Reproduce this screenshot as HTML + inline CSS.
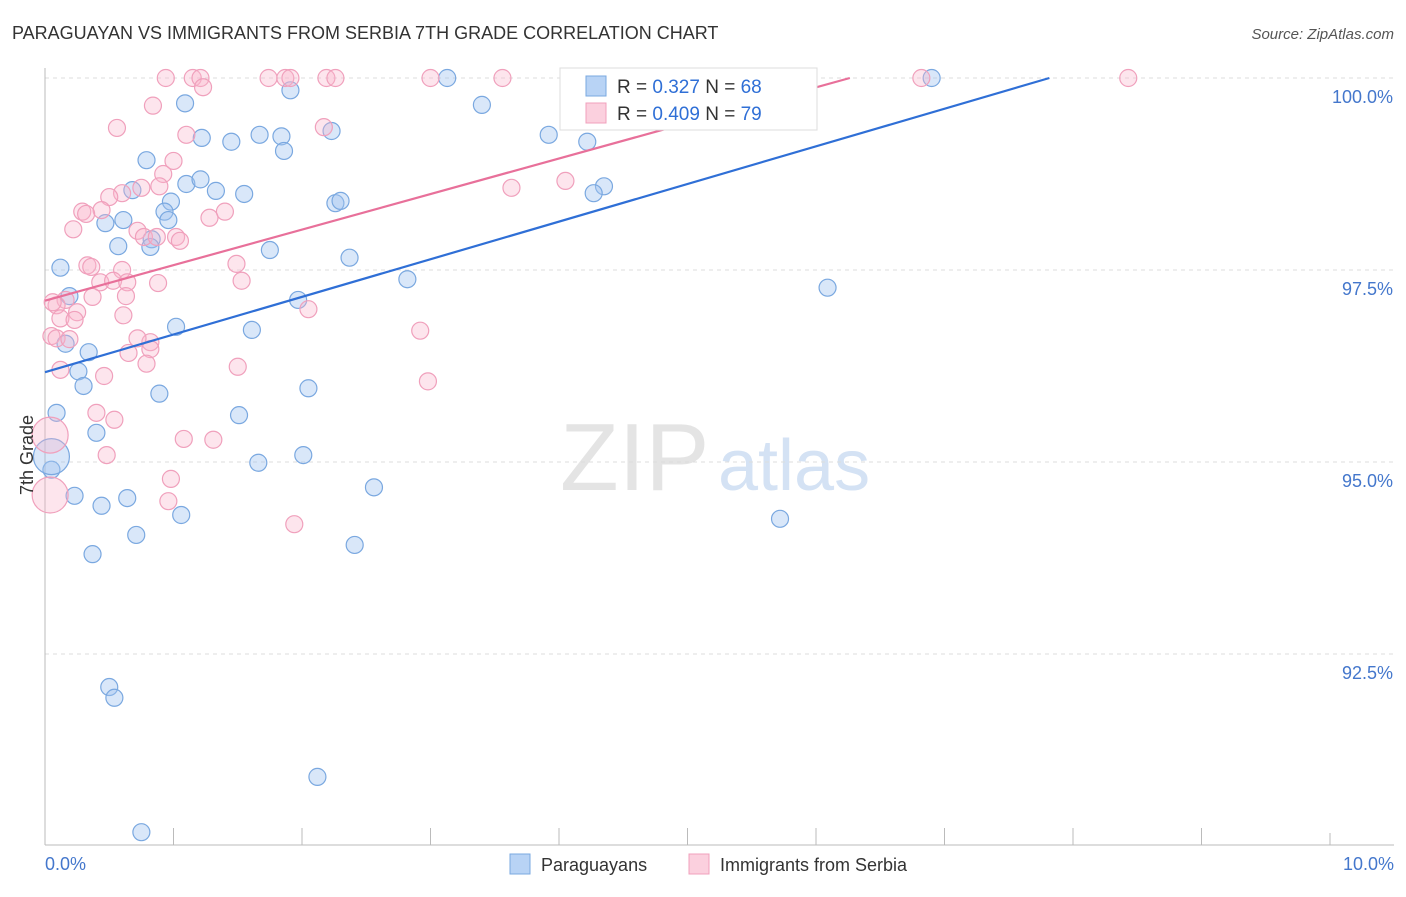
<!DOCTYPE html>
<html><head><meta charset="utf-8"><style>
body{margin:0;background:#fff;font-family:"Liberation Sans",sans-serif;}
svg text{font-family:"Liberation Sans",sans-serif;}
</style></head><body>
<svg width="1406" height="892" viewBox="0 0 1406 892">
<text x="12" y="39" font-size="18" fill="#333">PARAGUAYAN VS IMMIGRANTS FROM SERBIA 7TH GRADE CORRELATION CHART</text>
<text x="1394" y="39" font-size="15" fill="#555" font-style="italic" text-anchor="end">Source: ZipAtlas.com</text>
<text x="560" y="490" font-size="96" fill="#e4e4e4" font-family="Liberation Serif">ZIP</text>
<text x="718" y="490" font-size="72" fill="#d4e2f4">atlas</text>
<g id="grid"></g>
<g id="axes"></g>
<g id="pts"></g>
<g id="trend"></g>
<text transform="translate(33,455) rotate(-90)" font-size="18" fill="#333" text-anchor="middle">7th Grade</text>
<text x="45" y="870" font-size="18" fill="#4477cc">0.0%</text>
<text x="1394" y="870" font-size="18" fill="#4477cc" text-anchor="end">10.0%</text>
<g>
<rect x="560" y="68" width="257" height="62" fill="#fff" stroke="#ddd"/>
<rect x="586" y="76" width="20" height="20" fill="#b8d3f5" stroke="#7aa8e0"/>
<text x="617" y="93" font-size="19" fill="#333">R = <tspan fill="#2f6fd6">0.327</tspan>   N = <tspan fill="#2f6fd6">68</tspan></text>
<rect x="586" y="103" width="20" height="20" fill="#fbd0de" stroke="#f0a0bc"/>
<text x="617" y="120" font-size="19" fill="#333">R = <tspan fill="#2f6fd6">0.409</tspan>   N = <tspan fill="#2f6fd6">79</tspan></text>
</g>
<g>
<rect x="510" y="854" width="20" height="20" fill="#b8d3f5" stroke="#7aa8e0"/>
<text x="541" y="871" font-size="18" fill="#333">Paraguayans</text>
<rect x="689" y="854" width="20" height="20" fill="#fbd0de" stroke="#f0a0bc"/>
<text x="720" y="871" font-size="18" fill="#333">Immigrants from Serbia</text>
</g>
</svg>
<script>
const yTicks=[92.5,95,97.5,100];
const yTickLabels=["92.5%","95.0%","97.5%","100.0%"];
const xTicks=[0,1,2,3,4,5,6,7,8,9,10];
const blueX=[5.93,3.13,6.90,1.09,1.91,3.40,3.92,4.22,1.22,1.45,1.67,1.84,1.86,2.23,0.79,1.10,1.21,1.33,1.55,0.68,0.98,0.93,0.96,0.61,0.47,2.26,2.30,0.57,0.83,0.82,1.75,2.37,0.12,2.82,4.35,4.27,6.09,0.19,1.97,1.02,1.61,0.16,0.34,0.26,0.30,0.89,2.05,0.09,1.51,0.40,1.66,2.01,0.05,0.05,2.56,0.23,0.44,0.64,1.06,5.72,0.71,0.37,2.41,0.50,0.54,2.12,0.75];
const blueY=[100,100,100,99.67,99.84,99.65,99.26,99.17,99.22,99.17,99.26,99.24,99.05,99.31,98.93,98.62,98.68,98.53,98.49,98.54,98.39,98.26,98.15,98.15,98.11,98.37,98.40,97.81,97.90,97.80,97.76,97.66,97.53,97.38,98.59,98.50,97.27,97.16,97.11,96.76,96.72,96.54,96.43,96.18,95.99,95.89,95.96,95.64,95.61,95.38,94.99,95.09,94.90,95.07,94.67,94.56,94.43,94.53,94.31,94.26,94.05,93.80,93.92,92.07,91.93,90.90,90.18];
const pinkX=[0.94,1.15,1.21,1.74,1.87,1.91,2.19,2.26,3.00,3.56,6.82,8.43,1.23,0.84,0.56,1.10,2.17,1.00,0.92,0.89,0.75,0.60,0.50,0.44,0.29,0.32,0.22,1.40,1.28,0.72,0.77,0.87,1.02,1.05,3.63,4.05,0.33,0.36,0.60,1.49,0.43,0.53,1.53,0.88,0.64,0.16,0.09,0.37,0.25,0.63,0.12,0.23,2.05,0.61,0.05,0.09,0.19,2.92,0.82,0.82,0.72,0.65,0.79,0.12,1.50,0.46,2.98,0.40,0.54,1.08,1.31,0.48,0.98,0.96,1.94,0.04,0.04,0.06];
const pinkY=[100,100,100,100,100,100,100,100,100,100,100,100,99.88,99.64,99.35,99.26,99.36,98.92,98.75,98.59,98.57,98.50,98.45,98.28,98.26,98.23,98.03,98.26,98.18,98.01,97.93,97.93,97.93,97.88,98.57,98.66,97.56,97.54,97.50,97.58,97.34,97.36,97.36,97.33,97.34,97.11,97.04,97.15,96.95,97.16,96.87,96.85,96.99,96.91,96.64,96.61,96.60,96.71,96.56,96.47,96.61,96.42,96.28,96.20,96.24,96.12,96.05,95.64,95.55,95.30,95.29,95.09,94.78,94.49,94.19,95.35,94.57,97.08];
const blueTrend=[96.17,0.49];
const pinkTrend=[97.10,0.463];
const NS="http://www.w3.org/2000/svg";
const xs=v=>45+v*128.5, ys=v=>78+(100-v)*76.8;
function mk(p,t,a){const e=document.createElementNS(NS,t);for(const k in a)e.setAttribute(k,a[k]);p.appendChild(e);return e;}
const grid=document.getElementById('grid'),axes=document.getElementById('axes');
yTicks.forEach((t,i)=>{
 const l=mk(grid,'line',{x1:45,x2:1394,y1:ys(t),y2:ys(t),stroke:'#ddd','stroke-dasharray':'4,4'});
 
 
 const tx=mk(axes,'text',{x:1393,y:ys(t)+25,'font-size':18,fill:'#4477cc','text-anchor':'end'});
 tx.textContent=yTickLabels[i];
 
 
});
const ax=mk(axes,'line',{x1:45,x2:1394,y1:845,y2:845,stroke:'#bbb'});


const ay=mk(axes,'line',{x1:45,x2:45,y1:68,y2:845,stroke:'#bbb'});


xTicks.forEach(t=>{
 const l=mk(axes,'line',{x1:xs(t),x2:xs(t),y1:845,y2:t%1===0&&t>0&&t<10?828:833,stroke:'#bbb'});
 
 
});
const pts=document.getElementById('pts');
function drawPts(X,Y,fill,stroke,name){
 X.forEach((x,i)=>{
  const big=x<0.06&&(name==='pink-point'?i>=75&&i<=76:i===53);
  const c=mk(pts,'circle',{cx:xs(x),cy:ys(Y[i]),r:big?18:8.5,fill:fill,stroke:stroke,'stroke-width':1.2});
  
  
 });
}
drawPts(blueX,blueY,'rgba(160,196,240,0.4)','#7aa8e0','blue-point');
drawPts(pinkX,pinkY,'rgba(248,180,204,0.35)','#f0a0bc','pink-point');
const tr=document.getElementById('trend');
function drawTrend(p,color,name){
 const xEnd=Math.min(10,(100-p[0])/p[1]);
 const l=mk(tr,'line',{x1:xs(0),y1:ys(p[0]),x2:xs(xEnd),y2:ys(p[0]+p[1]*xEnd),stroke:color,'stroke-width':2.2});
 
 
}
drawTrend(blueTrend,'#2f6fd6','blue-trendline');
drawTrend(pinkTrend,'#e8709a','pink-trendline');
</script>
</body></html>
